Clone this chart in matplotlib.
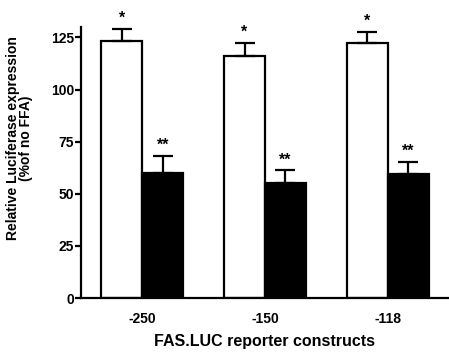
import matplotlib
matplotlib.use("Agg")
import matplotlib.pyplot as plt
import numpy as np

plt.rcParams['font.family'] = ['Liberation Sans', 'DejaVu Sans']
plt.rcParams['font.weight'] = 'bold'

categories = ['-250', '-150', '-118']
white_vals = [123.5, 116.0, 122.4]
white_err = [5.5, 6.4, 5.3]
black_vals = [60.0, 55.1, 59.5]
black_err = [8.3, 6.1, 5.7]
white_sig = ['*', '*', '*']
black_sig = ['**', '**', '**']
yticks = [0, 25, 50, 75, 100, 125]

fig = plt.figure(figsize=(4.49, 3.53), dpi=100)
ax = fig.add_axes([81/449, 1-298/353, 1-81/449, (298-27)/353])

x = np.arange(len(categories))
w = 0.333
lw = 1.6
ax.bar(x - w/2, white_vals, w, color='white', edgecolor='black', linewidth=lw, zorder=2)
ax.bar(x + w/2, black_vals, w, color='black', edgecolor='black', linewidth=lw, zorder=2)
ax.errorbar(x - w/2, white_vals, yerr=[np.zeros(3), white_err], fmt='none',
            ecolor='black', elinewidth=lw, capsize=7.5, capthick=lw, zorder=3)
ax.errorbar(x + w/2, black_vals, yerr=[np.zeros(3), black_err], fmt='none',
            ecolor='black', elinewidth=lw, capsize=7.5, capthick=lw, zorder=3)

for i in range(3):
    ax.text(x[i] - w/2, white_vals[i] + white_err[i] + 1.5, white_sig[i],
            ha='center', va='bottom', fontsize=11.5, fontweight='bold')
    ax.text(x[i] + w/2, black_vals[i] + black_err[i] + 1.5, black_sig[i],
            ha='center', va='bottom', fontsize=11.5, fontweight='bold')

ax.set_xlim(-0.5, 2.5)
ax.set_ylim(0, 130)
ax.set_yticks(yticks)
ax.set_yticklabels([str(t) for t in yticks], fontsize=10, fontweight='bold')
ax.set_xticks(x)
ax.set_xticklabels(categories, fontsize=10, fontweight='bold')
ax.tick_params(axis='x', length=0, pad=10)
ax.tick_params(axis='y', length=4.5, width=lw, pad=0.5)
for s in ['top', 'right']:
    ax.spines[s].set_visible(False)
for s in ['left', 'bottom']:
    ax.spines[s].set_linewidth(lw)

ax.set_ylabel('Relative Luciferase expression\n(%of no FFA)', fontsize=10,
              fontweight='bold', linespacing=0.95)
ax.yaxis.set_label_coords(-0.13, 0.59)
ax.set_xlabel('FAS.LUC reporter constructs', fontsize=11.5, fontweight='bold', labelpad=6)

fig.savefig('out.png', dpi=100)
